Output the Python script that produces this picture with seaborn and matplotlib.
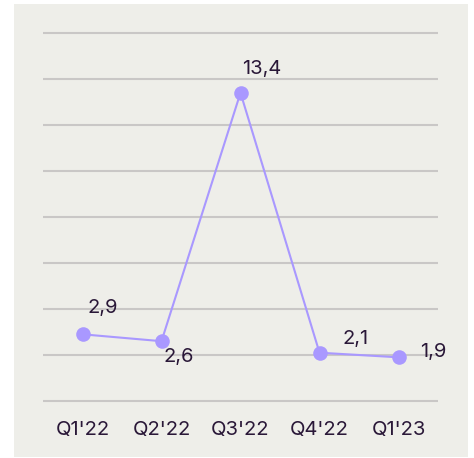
import matplotlib
matplotlib.use("Agg")
import matplotlib.pyplot as plt
import matplotlib.patches as patches
import pandas as pd
import seaborn as sns

# Quarterly values
quarters = ["Q1'22", "Q2'22", "Q3'22", "Q4'22", "Q1'23"]
values = [2.9, 2.6, 13.4, 2.1, 1.9]
labels = ["2,9", "2,6", "13,4", "2,1", "1,9"]

bg = "#eeeee9"
purple = "#a998ff"
text_col = "#2a1838"

sns.set_theme(style="white")
plt.rcParams['font.family'] = ['Inter', 'DejaVu Sans']

fig = plt.figure(figsize=(4.74, 4.58), dpi=100)
fig.patch.set_facecolor("white")
# panel background
fig.patches.append(patches.Rectangle((14 / 474, 1 - 457 / 458), 454 / 474, 453 / 458,
                                     transform=fig.transFigure, facecolor=bg,
                                     edgecolor="none", zorder=-5))

ax = fig.add_axes([43 / 474, 1 - 405.6 / 458, 395 / 474, 377.2 / 458])
ax.set_facecolor("none")
ax.set_zorder(2)

df = pd.DataFrame({"quarter": range(len(quarters)), "value": values})
sns.lineplot(data=df, x="quarter", y="value", ax=ax, color=purple, linewidth=1.5,
             marker="o", markersize=10.5, markeredgewidth=0, zorder=3)

ax.set_xlim(-0.5, len(quarters) - 0.5)
ax.set_ylim(-0.2, 16.2)
ax.set_yticks(range(0, 17, 2))
ax.set_yticklabels([])
ax.set_xticks(range(len(quarters)))
ax.set_xticklabels(quarters, fontsize=14.5, color=text_col)
ax.tick_params(axis="x", length=0, pad=11)
ax.tick_params(axis="y", length=0)
ax.yaxis.grid(True, color="#c9c7c6", linewidth=1.5)
ax.xaxis.grid(False)
ax.set_xlabel("")
ax.set_ylabel("")
for s in ax.spines.values():
    s.set_visible(False)

offsets = [(20, 26), (17, -16), (21, 24), (36, 14), (35, 5)]
for i, (v, lab) in enumerate(zip(values, labels)):
    ax.annotate(lab, (i, v), xytext=offsets[i], textcoords="offset pixels",
                ha="center", va="center", fontsize=14.5, color=text_col)

fig.savefig("out.png", dpi=100, facecolor=fig.get_facecolor())
